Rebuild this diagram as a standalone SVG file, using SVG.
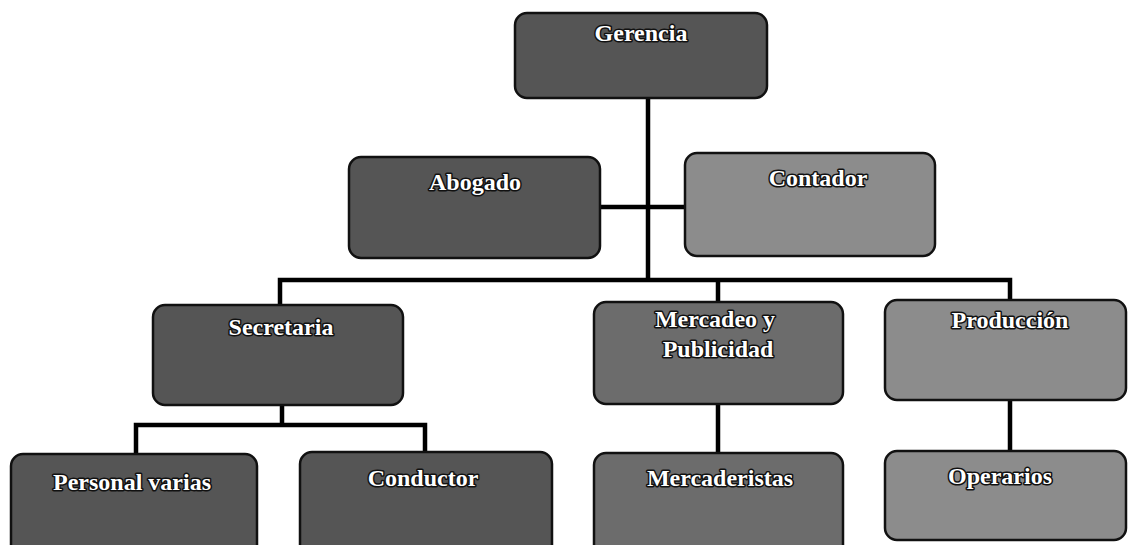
<svg xmlns="http://www.w3.org/2000/svg" width="1129" height="545" viewBox="0 0 1129 545">
<style>
.box{stroke:#111;stroke-width:2.5}
.d{fill:#555}
.m{fill:#6c6c6c}
.l{fill:#8c8c8c}
.t{font-family:"Liberation Serif","Times New Roman",serif;font-weight:bold;font-size:24px;fill:#fff;stroke:#111;stroke-width:3;paint-order:stroke;stroke-linejoin:round;text-anchor:middle}
.c{fill:none;stroke:#000;stroke-width:4.5}
</style>
<rect width="1129" height="545" fill="#fff"/>
<g id="connectors">
<path class="c" d="M648 98V278M600 207H685M280 305V280H1010V300M718 280V303M282 405V425M136 454V425H425V452M718 404V453M1010 400V451"/>
</g>
<g id="gerencia"><rect class="box d" x="515" y="13" width="252" height="85" rx="12"/><text class="t" x="641" y="41">Gerencia</text></g>
<g id="abogado"><rect class="box d" x="349" y="157" width="251" height="101" rx="12"/><text class="t" x="475" y="190">Abogado</text></g>
<g id="contador"><rect class="box l" x="685" y="153" width="250" height="103" rx="12"/><text class="t" x="818" y="186">Contador</text></g>
<g id="secretaria"><rect class="box d" x="153" y="305" width="250" height="100" rx="12"/><text class="t" x="281" y="335">Secretaria</text></g>
<g id="mercadeo"><rect class="box m" x="594" y="302" width="249" height="102" rx="12"/><text class="t" x="715" y="327">Mercadeo y</text><text class="t" x="718" y="357">Publicidad</text></g>
<g id="produccion"><rect class="box l" x="885" y="300" width="241" height="100" rx="12"/><text class="t" x="1010" y="328">Producción</text></g>
<g id="personal"><rect class="box d" x="11" y="454" width="246" height="110" rx="12"/><text class="t" x="132" y="490">Personal varias</text></g>
<g id="conductor"><rect class="box d" x="300" y="452" width="252" height="112" rx="12"/><text class="t" x="423" y="486">Conductor</text></g>
<g id="mercaderistas"><rect class="box m" x="594" y="453" width="249" height="111" rx="12"/><text class="t" x="720" y="486">Mercaderistas</text></g>
<g id="operarios"><rect class="box l" x="885" y="451" width="241" height="89" rx="12"/><text class="t" x="1000" y="484">Operarios</text></g>
</svg>
